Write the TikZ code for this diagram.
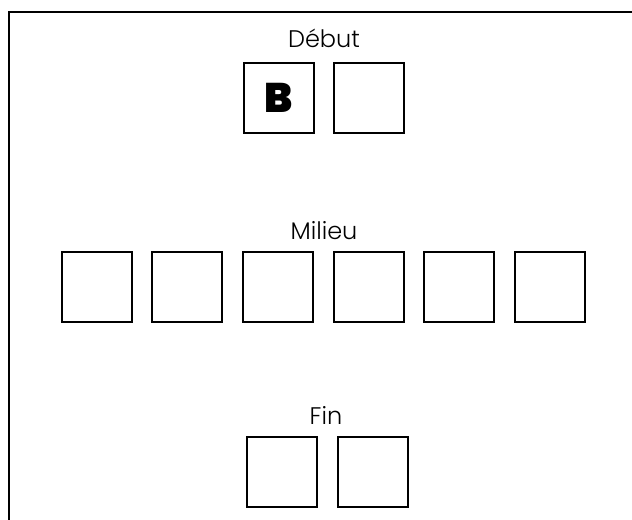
\documentclass[tikz,border=0pt]{standalone}
\usepackage{fontspec}
\setmainfont{Poppins}[UprightFont=* Light,BoldFont=* Black]
\usepackage{tikz}
\usetikzlibrary{positioning}
\tikzset{
 cadre/.style={line width=1.5pt,draw=black},
 case/.style={draw=black,line width=1.5pt,minimum size=52.5pt,inner sep=0pt},
 titre/.style={font=\fontsize{18}{21}\selectfont,anchor=base,inner sep=0pt},
 lettre/.style={font=\bfseries\fontsize{31}{34}\selectfont}
}
\begin{document}
\begin{tikzpicture}[x=0.75pt,y=-0.75pt,node distance=14pt]
\useasboundingbox (0,0) rectangle (632,519);
\draw[cadre] (9,540) -- (9,12) -- (650,12);
% debut
\node[titre] (debut) at (324,47) {Début};
\node[case,lettre] (d1) at (278.5,98) {B};
\node[case,right=of d1] (d2) {};
% milieu
\node[titre] (milieu) at (324,239) {Milieu};
\node[case] (m1) at (96.5,287) {};
\foreach \i [count=\j from 1] in {2,...,6}
  \node[case,right=of m\j] (m\i) {};
% fin
\node[titre] (fin) at (326,424) {Fin};
\node[case] (f1) at (282,472) {};
\node[case,right=of f1] (f2) {};
\end{tikzpicture}
\end{document}
